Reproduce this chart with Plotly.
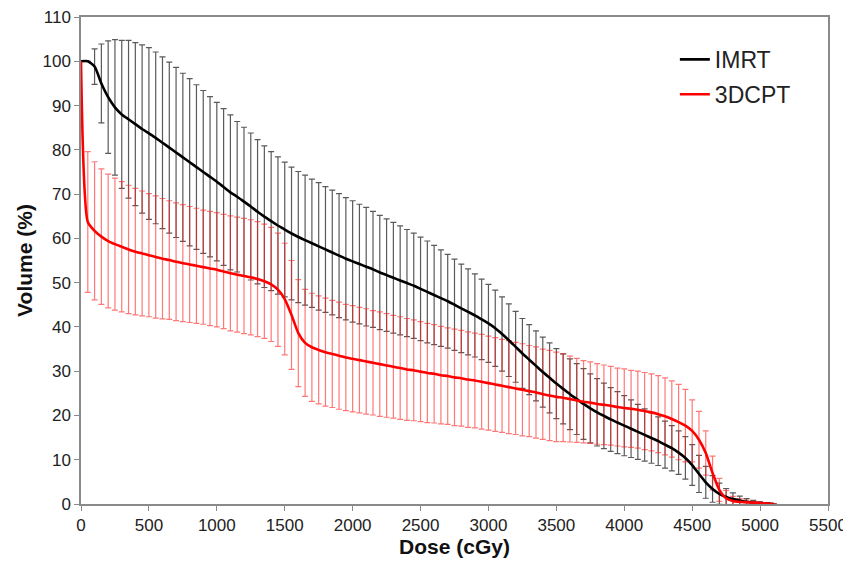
import plotly.graph_objects as go

dose = list(range(0, 5101, 50))

imrt_mean = [100, 100, 98.8, 95.0, 91.9, 89.6, 88.0, 86.9, 85.8, 84.7,
             83.7, 82.7, 81.6, 80.5, 79.4, 78.3, 77.2, 76.1, 75.0, 73.9,
             72.8, 71.6, 70.4, 69.4, 68.3, 67.2, 66.0, 64.9, 63.9, 62.9,
             62.0, 61.1, 60.3, 59.6, 58.9, 58.2, 57.5, 56.8, 56.1, 55.4,
             54.8, 54.2, 53.6, 53.0, 52.3, 51.7, 51.1, 50.5, 49.9, 49.3,
             48.6, 47.9, 47.2, 46.5, 45.8, 45.0, 44.2, 43.4, 42.6, 41.7,
             40.8, 39.7, 38.4, 37.0, 35.5, 34.0, 32.6, 31.2, 29.8, 28.5,
             27.2, 26.0, 24.8, 23.7, 22.6, 21.6, 20.7, 19.9, 19.1, 18.4,
             17.7, 17.0, 16.3, 15.6, 14.9, 14.2, 13.4, 12.6, 11.6, 10.4,
             8.8, 6.8, 4.9, 3.4, 2.3, 1.6, 1.1, 0.8, 0.5, 0.3,
             0.2, 0.1, 0.0]

imrt_sd = [0, 0, 4.0, 8.9, 12.7, 15.3, 16.7, 17.8, 18.4, 19.0,
           19.4, 19.4, 19.4, 19.3, 19.2, 19.0, 18.9, 18.6, 18.4, 18.1,
           17.9, 17.7, 17.5, 17.0, 16.8, 16.6, 16.3, 16.0, 15.7, 15.5,
           15.2, 15.0, 14.8, 14.7, 14.5, 14.4, 14.2, 14.1, 14.0, 13.8,
           13.7, 13.5, 13.4, 13.1, 12.9, 12.7, 12.5, 12.3, 12.1, 11.9,
           11.7, 11.5, 11.2, 10.9, 10.6, 10.3, 10.0, 9.7, 9.4, 9.1,
           8.8, 8.6, 8.4, 8.2, 8.0, 7.9, 7.9, 7.9, 7.9, 7.9,
           7.9, 7.9, 8.0, 8.0, 8.0, 7.8, 7.6, 7.4, 7.2, 7.0,
           6.8, 6.5, 6.2, 5.9, 5.7, 5.5, 5.3, 5.1, 4.9, 4.8,
           4.6, 4.2, 3.6, 3.0, 2.4, 1.9, 1.4, 1.0, 0.7, 0.5,
           0.3, 0.2, 0.1]

dcpt_mean = [100, 63.7, 61.7, 60.4, 59.4, 58.7, 58.1, 57.5, 57.0, 56.6,
             56.2, 55.8, 55.4, 55.1, 54.7, 54.4, 54.1, 53.8, 53.5, 53.2,
             52.9, 52.5, 52.1, 51.8, 51.5, 51.2, 50.8, 50.3, 49.6, 48.4,
             46.3, 42.7, 38.6, 36.4, 35.4, 34.8, 34.3, 33.9, 33.5, 33.1,
             32.8, 32.5, 32.2, 31.9, 31.6, 31.3, 31.0, 30.7, 30.4, 30.2,
             29.9, 29.6, 29.4, 29.1, 28.9, 28.6, 28.4, 28.1, 27.9, 27.6,
             27.3, 27.0, 26.7, 26.4, 26.1, 25.8, 25.5, 25.2, 24.8, 24.5,
             24.2, 24.0, 23.7, 23.4, 23.1, 22.9, 22.6, 22.4, 22.2, 21.9,
             21.7, 21.5, 21.3, 21.0, 20.7, 20.3, 19.8, 19.2, 18.5, 17.7,
             16.5, 14.5, 11.5, 7.0, 3.2, 1.3, 0.7, 0.5, 0.4, 0.3,
             0.2, 0.1, 0.0]

dcpt_sd = [0, 15.9, 15.6, 15.3, 15.1, 14.9, 14.7, 14.5, 14.3, 14.1,
           13.9, 13.8, 13.6, 13.4, 13.3, 13.2, 13.1, 13.0, 12.9, 12.9,
           12.9, 12.9, 13.0, 13.0, 13.0, 13.0, 13.0, 12.9, 12.9, 12.8,
           12.6, 12.3, 12.1, 12.1, 12.2, 12.2, 12.2, 12.1, 12.1, 12.0,
           12.0, 11.9, 11.9, 11.8, 11.8, 11.7, 11.6, 11.6, 11.5, 11.4,
           11.3, 11.2, 11.1, 11.0, 10.9, 10.9, 10.8, 10.8, 10.7, 10.7,
           10.6, 10.6, 10.5, 10.5, 10.4, 10.4, 10.3, 10.3, 10.2, 10.2,
           10.1, 9.9, 9.7, 9.5, 9.3, 9.2, 9.1, 9.0, 8.9, 8.8,
           8.8, 8.7, 8.7, 8.7, 8.7, 8.7, 8.7, 8.6, 8.5, 8.2,
           7.0, 6.4, 5.0, 3.8, 2.6, 1.8, 1.0, 0.7, 0.5, 0.3,
           0.2, 0.1, 0.1]

x_ticks = [0, 500, 1000, 1500, 2000, 2500, 3000, 3500, 4000, 4500, 5000, 5500]
y_ticks = [0, 10, 20, 30, 40, 50, 60, 70, 80, 90, 100, 110]

FONT = "Arial, 'Liberation Sans', sans-serif"

fig = go.Figure()

# error bars (drawn below lines)
fig.add_trace(go.Scatter(
    x=dose, y=imrt_mean, mode="markers", showlegend=False, hoverinfo="skip",
    marker=dict(size=1, color="rgba(0,0,0,0)"),
    error_y=dict(type="data", array=imrt_sd, visible=True,
                 color="rgb(90,90,90)", thickness=1.2, width=3)))
fig.add_trace(go.Scatter(
    x=dose, y=dcpt_mean, mode="markers", showlegend=False, hoverinfo="skip",
    marker=dict(size=1, color="rgba(0,0,0,0)"),
    error_y=dict(type="data", array=dcpt_sd, visible=True,
                 color="rgba(255,30,30,0.6)", thickness=1.2, width=3)))

# mean lines
fig.add_trace(go.Scatter(
    x=dose, y=imrt_mean, mode="lines", name="IMRT", legendgroup="a",
    line=dict(color="black", width=2.6, shape="spline", smoothing=0.6)))
fig.add_trace(go.Scatter(
    x=dose, y=dcpt_mean, mode="lines", name="3DCPT", legendgroup="b",
    line=dict(color="#ff0000", width=2.6, shape="spline", smoothing=0.6)))

# the page body adds an 8px offset, so the figure is 8px smaller than the window
fig.update_layout(
    width=843, height=562,
    margin=dict(l=73, r=23, t=9, b=66),
    paper_bgcolor="white", plot_bgcolor="white",
    font=dict(family=FONT, size=17, color="#222"),
    showlegend=True,
    legend=dict(x=0.795, y=0.957, xanchor="left", yanchor="top",
                bgcolor="rgba(0,0,0,0)", font=dict(size=23, color="#222"),
                tracegroupgap=2, itemwidth=30),
    xaxis=dict(range=[0, 5500], tickvals=x_ticks, ticktext=[str(v) for v in x_ticks],
               showgrid=False, zeroline=False, showline=True, linecolor="#8a8a8a",
               linewidth=1.5, mirror=True, ticks="outside", ticklen=5, tickcolor="#8a8a8a",
               tickfont=dict(size=17, color="#222"), automargin=False,
               ticklabeloverflow="allow",
               title=dict(text="<b>Dose (cGy)</b>", font=dict(size=21, color="#111"), standoff=4)),
    yaxis=dict(range=[0, 110], tickvals=y_ticks, ticktext=[str(v) for v in y_ticks],
               showgrid=False, zeroline=False, showline=True, linecolor="#8a8a8a",
               linewidth=1.5, mirror=True, ticks="outside", ticklen=5, tickcolor="#8a8a8a",
               tickfont=dict(size=17, color="#222"), automargin=False,
               ticklabeloverflow="allow",
               title=dict(text="<b>Volume (%)</b>", font=dict(size=21, color="#111"), standoff=4)),
)

fig.write_html("out.html")
